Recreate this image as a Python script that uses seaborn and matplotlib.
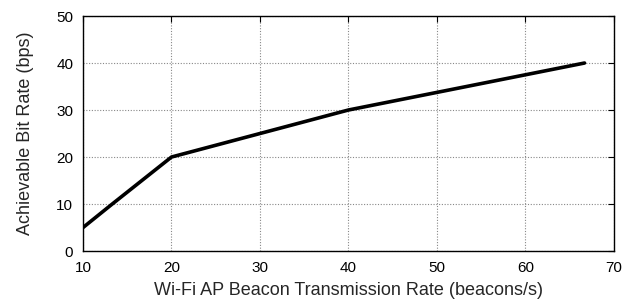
import matplotlib
matplotlib.use("Agg")
import matplotlib.pyplot as plt
import seaborn as sns
import pandas as pd

# Data
beacon_rate = [10, 13.3, 20, 40, 66.7]
bit_rate = [5, 10, 20, 30, 40]

x_ticks = [10, 20, 30, 40, 50, 60, 70]
y_ticks = [0, 10, 20, 30, 40, 50]

sns.set_theme(style="white")
plt.rcParams["font.family"] = ["Liberation Sans", "DejaVu Sans"]

df = pd.DataFrame({"rate": beacon_rate, "bits": bit_rate})

fig = plt.figure(figsize=(6.34, 3.08), dpi=100)
ax = fig.add_axes([0.131, 0.185, 0.837, 0.763])

sns.lineplot(data=df, x="rate", y="bits", ax=ax, color="black", linewidth=2.6)

ax.set_xlim(10, 70)
ax.set_ylim(0, 50)
ax.set_xticks(x_ticks)
ax.set_yticks(y_ticks)
ax.grid(True, linestyle=(0, (1, 1.5)), color="#888888", linewidth=0.8)
ax.tick_params(direction="in", top=True, right=True, length=4, width=0.8,
               labelsize=11, colors="black", pad=7)
for s in ax.spines.values():
    s.set_color("black")
    s.set_linewidth(1.0)

ax.set_xlabel("Wi-Fi AP Beacon Transmission Rate (beacons/s)", fontsize=13, labelpad=5)
ax.set_ylabel("Achievable Bit Rate (bps)", fontsize=13, labelpad=16)

fig.savefig("out.png", dpi=100)
